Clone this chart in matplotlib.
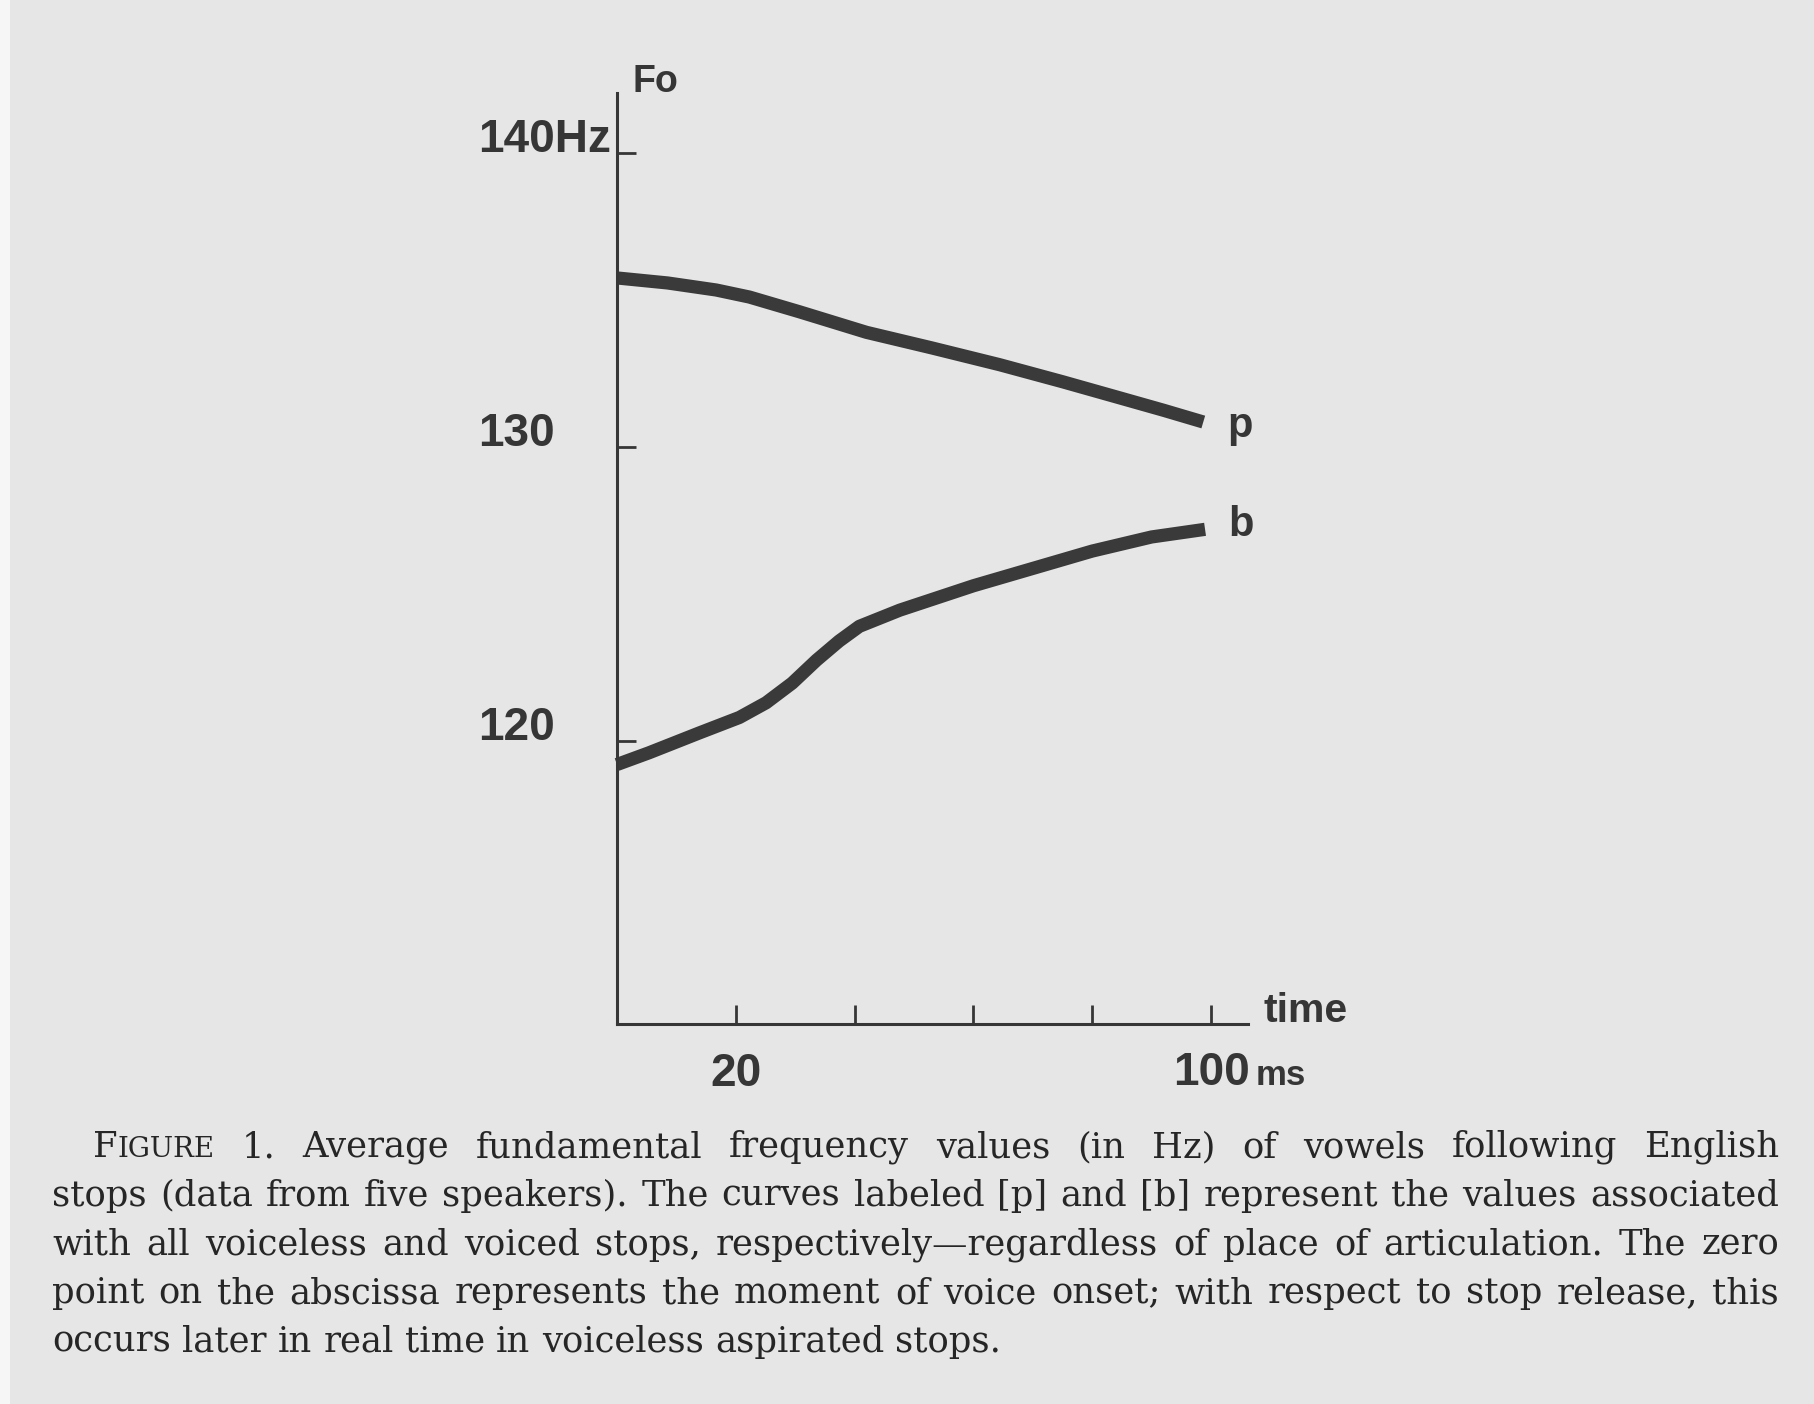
import matplotlib
matplotlib.use("Agg")
import matplotlib.pyplot as plt
from matplotlib.patches import Rectangle

# Fo curves (time in ms, Fo in Hz)
t_p = [0, 8.5, 16.7, 22.3, 30.7, 42, 53, 64.4, 75, 85, 92, 98.7]
f0_p = [135.75, 135.58, 135.34, 135.1, 134.6, 133.9, 133.37, 132.8, 132.22, 131.65, 131.25, 130.85]
t_b = [0, 5.4, 13.8, 20.6, 25.1, 29.5, 33.6, 37.4, 40.8, 47.6, 60, 70, 80, 90, 99]
f0_b = [119.2, 119.6, 120.27, 120.8, 121.3, 121.97, 122.75, 123.4, 123.9, 124.45, 125.28, 125.87, 126.46, 126.94, 127.2]

y_ticks = [140, 130, 120]
y_labels = ['140Hz', '130', '120']
x_ticks = [20, 40, 60, 80, 100]

caption = [
    "FIGURE 1. Average fundamental frequency values (in Hz) of vowels following English",
    "stops (data from five speakers). The curves labeled [p] and [b] represent the values associated",
    "with all voiceless and voiced stops, respectively\u2014regardless of place of articulation. The zero",
    "point on the abscissa represents the moment of voice onset; with respect to stop release, this",
    "occurs later in real time in voiceless aspirated stops.",
]

W, H = 1815, 1404
ink = '#363636'
paper = '#e6e6e6'

fig = plt.figure(figsize=(W / 100, H / 100), dpi=100)
fig.patch.set_facecolor(paper)
fig.patches.append(Rectangle((0, 0), 10 / W, 1, transform=fig.transFigure,
                             facecolor='#f6f6f6', edgecolor='none'))

# axes placed where the drawn axes sit on the page
x0, x100 = 617, 1211      # pixel columns of 0 and 100 ms
y140, y120 = 153, 741     # pixel rows of 140 and 120 Hz
ax_right, ax_top, ax_bot = 1248, 93, 1024
ax = fig.add_axes([x0 / W, 1 - ax_bot / H, (ax_right - x0) / W, (ax_bot - ax_top) / H])
ax.patch.set_alpha(0)
px_ms = (x100 - x0) / 100
px_hz = (y120 - y140) / 20
ax.set_xlim(0, (ax_right - x0) / px_ms)
ax.set_ylim(120 - (ax_bot - y120) / px_hz, 140 + (y140 - ax_top) / px_hz)
ax.spines['top'].set_visible(False)
ax.spines['right'].set_visible(False)
for s in ['left', 'bottom']:
    ax.spines[s].set_linewidth(2.2)
    ax.spines[s].set_color(ink)
ax.set_xticks(x_ticks)
ax.set_yticks(y_ticks)
ax.tick_params(direction='in', length=14, width=2, color=ink,
               labelbottom=False, labelleft=False)

ax.plot(t_p, f0_p, color='#3a3a3a', lw=9.5, solid_capstyle='butt',
        solid_joinstyle='round', clip_on=False)
ax.plot(t_b, f0_b, color='#3a3a3a', lw=9.5, solid_capstyle='butt',
        solid_joinstyle='round', clip_on=False)

lab = dict(family='Liberation Sans', fontweight='bold', color=ink,
           textcoords='offset points', annotation_clip=False)

# y tick labels, left aligned, a little above each tick
for v, s in zip(y_ticks, y_labels):
    ax.annotate(s, xy=(0, v), xytext=(-100, 9), ha='left', va='center', fontsize=33, **lab)

# x tick labels (only 20 and 100 are labelled)
ybot = ax.get_ylim()[0]
ax.annotate('20', xy=(20, ybot), xytext=(0, -36), ha='center', va='center', fontsize=33, **lab)
ax.annotate('100', xy=(100, ybot), xytext=(0, -35), ha='center', va='center', fontsize=33, **lab)
ax.annotate('ms', xy=(100, ybot), xytext=(32, -37), ha='left', va='center', fontsize=25, **lab)

ax.annotate('time', xy=(ax.get_xlim()[1], ybot), xytext=(11, 9),
            ha='left', va='center', fontsize=29.5, **lab)
ax.annotate('Fo', xy=(0, ax.get_ylim()[1]), xytext=(11, 8),
            ha='left', va='center', fontsize=27, **lab)

ax.annotate('p', xy=(t_p[-1], f0_p[-1]), xytext=(17, -3), ha='left', va='center', fontsize=30, **lab)
ax.annotate('b', xy=(t_b[-1], f0_b[-1]), xytext=(17, 3), ha='left', va='center', fontsize=30, **lab)

# caption, justified line by line like the printed page
renderer = fig.canvas.get_renderer()
cap_size = 25.5
cap_color = '#262626'


def pieces(word):
    if word == 'FIGURE':
        return [('F', 1.0), ('IGURE', 0.78)]
    return [(word, 1.0)]


def text_w(t):
    return t.get_window_extent(renderer).width


probe1 = fig.text(0, 0, 'x x', fontsize=cap_size, family='DejaVu Serif')
probe2 = fig.text(0, 0, 'xx', fontsize=cap_size, family='DejaVu Serif')
space_w = text_w(probe1) - text_w(probe2)
probe1.remove()
probe2.remove()

lefts = [93, 52, 52, 52, 52]
right = 1779
base0 = 1157
step = 48.75

for i, line in enumerate(caption):
    words = line.split(' ')
    items = []
    for w in words:
        parts = []
        for s, k in pieces(w):
            t = fig.text(0, 0, s, fontsize=cap_size * k, family='DejaVu Serif',
                         color=cap_color, ha='left', va='baseline')
            parts.append((t, text_w(t)))
        items.append(parts)
    widths = [sum(p[1] for p in parts) for parts in items]
    if i < len(caption) - 1:
        gap = (right - lefts[i] - sum(widths)) / (len(words) - 1)
    else:
        gap = space_w
    x = lefts[i]
    y = base0 + i * step
    for parts, w in zip(items, widths):
        xx = x
        for t, pw in parts:
            t.set_position((xx / W, 1 - y / H))
            xx += pw
        x += w + gap

fig.savefig('out.png', dpi=100, facecolor=fig.get_facecolor())
